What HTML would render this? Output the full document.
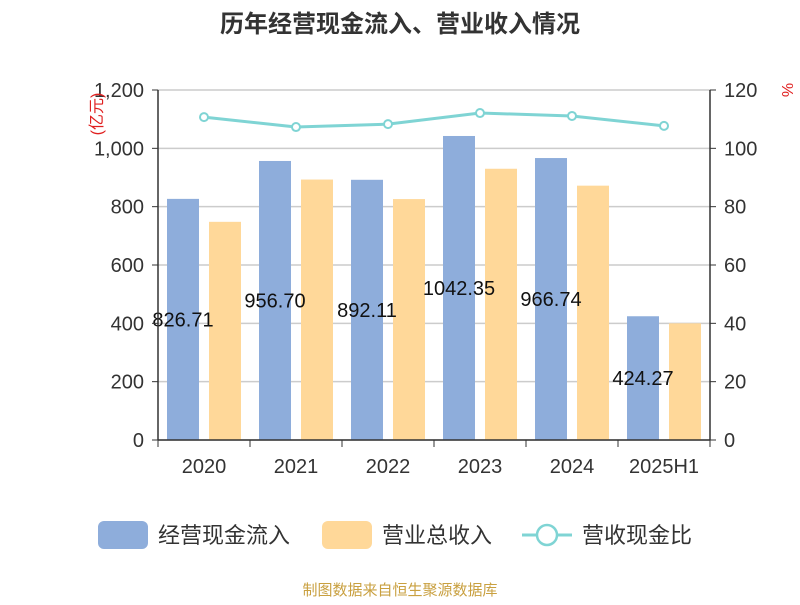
<!DOCTYPE html>
<html><head><meta charset="utf-8"><style>
body{margin:0;background:#fff;font-family:"Liberation Sans","Noto Sans CJK SC",sans-serif}
</style></head><body>
<svg width="800" height="600" xmlns="http://www.w3.org/2000/svg" font-family="Liberation Sans, Noto Sans CJK SC, sans-serif">
<text x="400" y="32" text-anchor="middle" font-size="24" font-weight="bold" fill="#333">历年经营现金流入、营业收入情况</text>
<g id="grid"></g><g id="bars"></g><g id="line"></g><g id="axes"></g>
<text transform="translate(102,114) rotate(-90)" text-anchor="middle" font-size="16" fill="#e02020">(亿元)</text>
<text transform="translate(782,90) rotate(90)" text-anchor="middle" font-size="16" fill="#e02020">%</text>
<g>
<rect x="98" y="521" width="50" height="28" rx="6" fill="#8eaddb"/>
<text x="158" y="543" font-size="22" fill="#333">经营现金流入</text>
<rect x="322" y="521" width="50" height="28" rx="6" fill="#ffd899"/>
<text x="382" y="543" font-size="22" fill="#333">营业总收入</text>
<line x1="522" y1="535" x2="572" y2="535" stroke="#7fd4d4" stroke-width="3"/>
<circle cx="547" cy="535" r="10" fill="#fff" stroke="#7fd4d4" stroke-width="2.5"/>
<text x="582" y="543" font-size="22" fill="#333">营收现金比</text>
</g>
<text x="400" y="595" text-anchor="middle" font-size="15" fill="#c9a040">制图数据来自恒生聚源数据库</text>
</svg>
<script>
const categories=["2020","2021","2022","2023","2024","2025H1"];
const cashInflow=[826.71,956.70,892.11,1042.35,966.74,424.27];
const cashLabels=["826.71","956.70","892.11","1042.35","966.74","424.27"];
const revenue=[748,893,826,930,872,400];
const ratio=[110.7,107.3,108.3,112.1,111.1,107.7];
const leftTicks=[0,200,400,600,800,1000,1200];
const leftTickLabels=["0","200","400","600","800","1,000","1,200"];
const rightTicks=[0,20,40,60,80,100,120];
const NS="http://www.w3.org/2000/svg";
const X0=158,X1=710,Y0=440,Y1=90;
const yL=v=>Y0-(v/1200)*(Y0-Y1);
const yR=v=>Y0-(v/120)*(Y0-Y1);
const bw=(X1-X0)/categories.length;
const xc=i=>X0+bw*(i+0.5);
function mk(tag,attrs,parent){const e=document.createElementNS(NS,tag);for(const k in attrs)e.setAttribute(k,attrs[k]);document.getElementById(parent).appendChild(e);return e;}
leftTicks.forEach((t,i)=>{
 const g=mk("line",{x1:X0,x2:X1,y1:yL(t),y2:yL(t),stroke:"#ccc","stroke-width":1.5},"grid");
 
 
 const tl=mk("text",{x:X0-14,y:yL(t)+7,"text-anchor":"end","font-size":20,fill:"#333"},"axes");tl.textContent=leftTickLabels[i];
 
 
 mk("line",{x1:X0-6,x2:X0,y1:yL(t),y2:yL(t),stroke:"#333"},"axes");
});
rightTicks.forEach(t=>{
 const tl=mk("text",{x:X1+14,y:yR(t)+7,"font-size":20,fill:"#333"},"axes");tl.textContent=t;
 
 
 mk("line",{x1:X1,x2:X1+6,y1:yR(t),y2:yR(t),stroke:"#333"},"axes");
});
mk("line",{x1:X0,x2:X0,y1:Y1,y2:Y0,stroke:"#333","stroke-width":1.5},"axes");
mk("line",{x1:X1,x2:X1,y1:Y1,y2:Y0,stroke:"#333","stroke-width":1.5},"axes");
mk("line",{x1:X0,x2:X1,y1:Y0,y2:Y0,stroke:"#333","stroke-width":1.5},"axes");
categories.forEach((c,i)=>{
 mk("line",{x1:X0+bw*i,x2:X0+bw*i,y1:Y0,y2:Y0+7,stroke:"#333"},"axes");
 const tl=mk("text",{x:xc(i),y:Y0+33,"text-anchor":"middle","font-size":20,fill:"#333"},"axes");tl.textContent=c;
 
 
 const b=mk("rect",{x:xc(i)-37,y:yL(cashInflow[i]),width:32,height:Y0-yL(cashInflow[i]),fill:"#8eaddb"},"bars");
 
 
 const r=mk("rect",{x:xc(i)+5,y:yL(revenue[i]),width:32,height:Y0-yL(revenue[i]),fill:"#ffd899"},"bars");
 
 
 const lb=mk("text",{x:xc(i)-21,y:yL(cashInflow[i]/2)+7,"text-anchor":"middle","font-size":20,fill:"#111"},"line");lb.textContent=cashLabels[i];
 
 
});
mk("line",{x1:X0,x2:X0,y1:Y0,y2:Y0+7,stroke:"#333"},"axes");
mk("line",{x1:X1,x2:X1,y1:Y0,y2:Y0+7,stroke:"#333"},"axes");
const pl=mk("polyline",{points:ratio.map((v,i)=>xc(i)+","+yR(v)).join(" "),fill:"none",stroke:"#7fd4d4","stroke-width":3},"line");


ratio.forEach((v,i)=>{
 const p=mk("circle",{cx:xc(i),cy:yR(v),r:4,fill:"#fff",stroke:"#7fd4d4","stroke-width":2},"line");
 
 
});
</script>
</body></html>
